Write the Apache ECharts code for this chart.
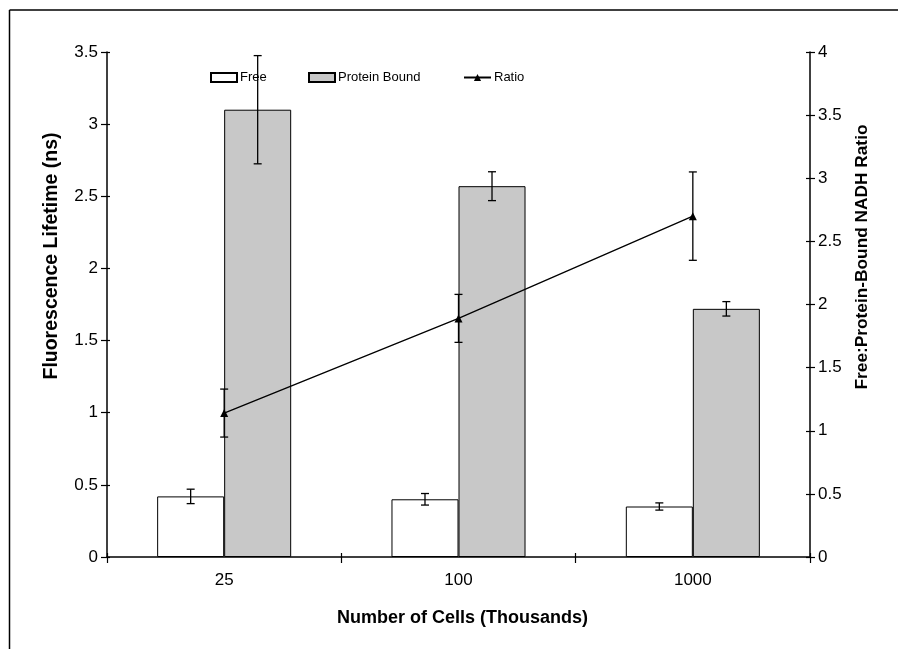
<!DOCTYPE html>
<html>
<head>
<meta charset="utf-8">
<script src="https://cdn.jsdelivr.net/npm/echarts@6/dist/echarts.min.js"></script>
<style>
html,body{margin:0;padding:0;background:#fff;}
#chart{width:898px;height:649px;}
</style>
</head>
<body>
<div id="chart"></div>
<script>
const categories = ['25', '100', '1000'];
const freeVals = [0.42, 0.40, 0.35];
const freeErr = [0.05, 0.04, 0.025];
const boundVals = [3.10, 2.57, 1.72];
const boundErr = [0.375, 0.10, 0.05];
const ratioVals = [1.14, 1.89, 2.70];
const ratioErr = [0.19, 0.19, 0.35];
const leftTicks = {min: 0, max: 3.5, interval: 0.5};
const rightTicks = {min: 0, max: 4, interval: 0.5};

const FONT = "'Liberation Sans', Arial, sans-serif";
const BAR_FRAC = 0.286;

function errData(vals, errs) {
  return vals.map((v, i) => [i, v + errs[i], v - errs[i]]);
}
function errRender(sign) {
  return function (params, api) {
    const x = api.value(0);
    const pHi = api.coord([x, api.value(1)]);
    const pLo = api.coord([x, api.value(2)]);
    const cw = api.size([1, 0])[0];
    const cx = pHi[0] + sign * cw * BAR_FRAC / 2;
    const cap = 4;
    const st = {stroke: '#000', lineWidth: 1.3};
    return {
      type: 'group',
      children: [
        {type: 'line', shape: {x1: cx, y1: pHi[1], x2: cx, y2: pLo[1]}, style: st},
        {type: 'line', shape: {x1: cx - cap, y1: pHi[1], x2: cx + cap, y2: pHi[1]}, style: st},
        {type: 'line', shape: {x1: cx - cap, y1: pLo[1], x2: cx + cap, y2: pLo[1]}, style: st}
      ]
    };
  };
}

const chart = echarts.init(document.getElementById('chart'), null, {renderer: 'canvas'});
const axisLineStyle = {color: '#000', width: 1.5};
const labelStyle = {color: '#000', fontFamily: FONT, fontSize: 17};
const legendText = {color: '#000', fontSize: 13, fontFamily: FONT, padding: [0, 0, 0, -2]};

chart.setOption({
  animation: false,
  backgroundColor: '#fff',
  textStyle: {fontFamily: FONT},
  grid: {left: 107, right: 88, top: 52, bottom: 92, containLabel: false},
  legend: [
    {data: [{name: 'Free', icon: 'rect'}], left: 210, top: 71, padding: 0, itemWidth: 26, itemHeight: 9, textStyle: legendText},
    {data: [{name: 'Protein Bound', icon: 'rect'}], left: 308, top: 71, padding: 0, itemWidth: 26, itemHeight: 9, textStyle: legendText},
    {data: ['Ratio'], left: 463, top: 71, padding: 0, itemWidth: 27, itemHeight: 9, textStyle: legendText}
  ],
  xAxis: [
    {type: 'category', data: categories, boundaryGap: true,
     axisLine: {lineStyle: axisLineStyle},
     axisTick: {show: true, length: 6, lineStyle: {color: '#000', width: 1.2}},
     axisLabel: Object.assign({margin: 15}, labelStyle),
     splitLine: {show: false},
     name: 'Number of Cells (Thousands)', nameLocation: 'middle', nameGap: 52,
     nameTextStyle: {color: '#000', fontFamily: FONT, fontSize: 18, fontWeight: 'bold', padding: [0, 0, 0, 8]}},
    {type: 'category', data: categories, boundaryGap: true, position: 'bottom',
     axisLine: {show: false},
     axisTick: {show: true, inside: true, length: 4, lineStyle: {color: '#000', width: 1.2}},
     axisLabel: {show: false}, splitLine: {show: false}}
  ],
  yAxis: [
    Object.assign({type: 'value', position: 'left',
     axisLine: {show: true, lineStyle: axisLineStyle},
     axisTick: {show: true, length: 6, lineStyle: {color: '#000', width: 1.2}},
     axisLabel: Object.assign({margin: 9}, labelStyle),
     splitLine: {show: false}}, leftTicks),
    Object.assign({type: 'value', position: 'right',
     axisLine: {show: true, lineStyle: axisLineStyle},
     axisTick: {show: true, length: 5, lineStyle: {color: '#000', width: 1.2}},
     axisLabel: Object.assign({margin: 8}, labelStyle),
     splitLine: {show: false}}, rightTicks),
    Object.assign({type: 'value', position: 'left', offset: 0,
     axisLine: {show: false},
     axisTick: {show: true, inside: true, length: 3, lineStyle: {color: '#000', width: 1.2}},
     axisLabel: {show: false}, splitLine: {show: false}}, leftTicks),
    Object.assign({type: 'value', position: 'right', offset: 0,
     axisLine: {show: false},
     axisTick: {show: true, inside: true, length: 4, lineStyle: {color: '#000', width: 1.2}},
     axisLabel: {show: false}, splitLine: {show: false}}, rightTicks)
  ],
  graphic: [
    {type: 'line', shape: {x1: 9.5, y1: 10, x2: 898, y2: 10}, style: {stroke: '#000', lineWidth: 1.5}, silent: true},
    {type: 'line', shape: {x1: 9.5, y1: 10, x2: 9.5, y2: 649}, style: {stroke: '#000', lineWidth: 1.5}, silent: true},
    {type: 'text', x: 52, y: 256, rotation: Math.PI / 2,
     style: {text: 'Fluorescence Lifetime (ns)', fill: '#000', font: 'bold 19.5px ' + FONT, textAlign: 'center', textVerticalAlign: 'middle'}},
    {type: 'text', x: 862, y: 257, rotation: Math.PI / 2,
     style: {text: 'Free:Protein-Bound NADH Ratio', fill: '#000', font: 'bold 17.3px ' + FONT, textAlign: 'center', textVerticalAlign: 'middle'}}
  ],
  series: [
    {name: 'Free', type: 'bar', data: freeVals, barWidth: (BAR_FRAC * 100) + '%', barGap: '0%',
     itemStyle: {color: '#ffffff', borderColor: '#000', borderWidth: 1}},
    {name: 'Protein Bound', type: 'bar', data: boundVals, barWidth: (BAR_FRAC * 100) + '%', barGap: '0%',
     itemStyle: {color: '#c8c8c8', borderColor: '#000', borderWidth: 1}},
    {name: 'freeErr', type: 'custom', renderItem: errRender(-1), data: errData(freeVals, freeErr),
     encode: {x: 0, y: [1, 2]}, z: 5},
    {name: 'boundErr', type: 'custom', renderItem: errRender(1), data: errData(boundVals, boundErr),
     encode: {x: 0, y: [1, 2]}, z: 5},
    {name: 'Ratio', type: 'line', yAxisIndex: 1, data: ratioVals,
     symbol: 'triangle', symbolSize: 8, color: '#000',
     lineStyle: {color: '#000', width: 1.3}, itemStyle: {color: '#000'}, z: 6},
    {name: 'ratioErr', type: 'custom', yAxisIndex: 1, renderItem: errRender(0), data: errData(ratioVals, ratioErr),
     encode: {x: 0, y: [1, 2]}, z: 6}
  ]
});
</script>
</body>
</html>
